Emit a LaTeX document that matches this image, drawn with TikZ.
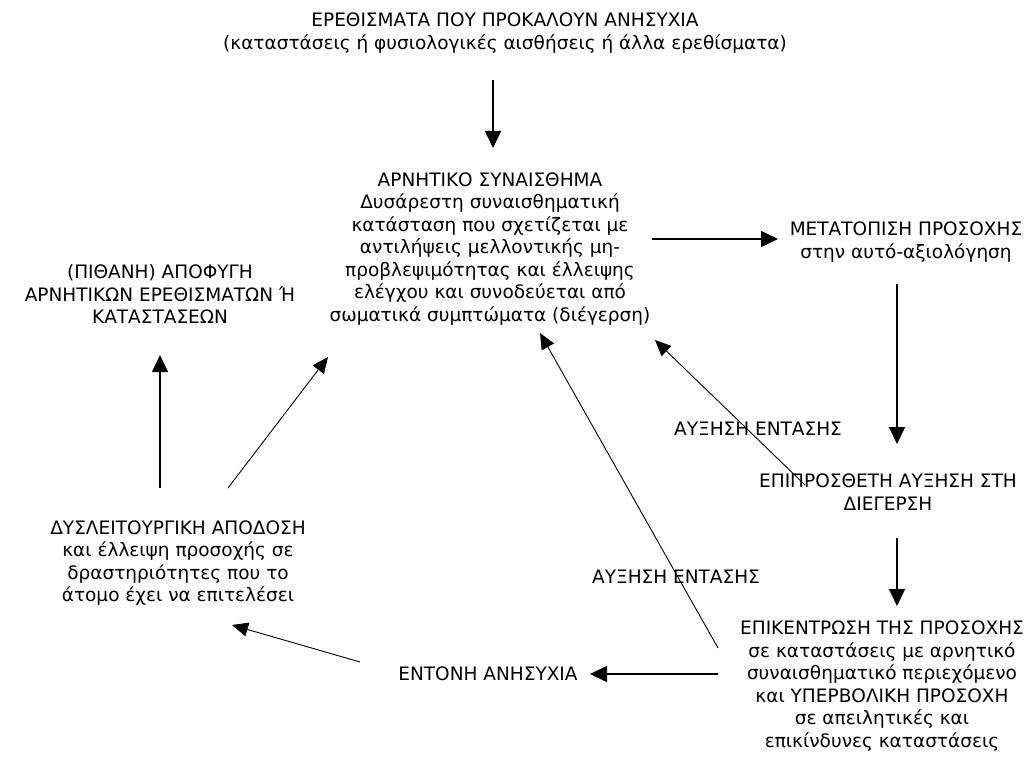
\documentclass[tikz,border=0pt]{standalone}
\usepackage{fontspec}
\setmainfont{DejaVu Sans}
\usetikzlibrary{calc,arrows.meta}

\begin{document}
\begin{tikzpicture}[x=1pt,y=-1pt,
    txt/.style={align=center,inner sep=0pt,font=\fontsize{18.5}{22.5}\selectfont},
    flow/.style={-{Triangle[length=17pt,width=16pt]},line width=1.6pt},
    link/.style={-{Triangle[length=16pt,width=14pt]},line width=0.9pt}]
      \useasboundingbox (0,0) rectangle (1035,762);
      \node[txt] (stimuli) at (505,33) {ΕΡΕΘΙΣΜΑΤΑ ΠΟΥ ΠΡΟΚΑΛΟΥΝ ΑΝΗΣΥΧΙΑ\\(καταστάσεις ή φυσιολογικές αισθήσεις ή άλλα ερεθίσματα)};
      \node[txt] (negfeel) at (490,249) {ΑΡΝΗΤΙΚΟ ΣΥΝΑΙΣΘΗΜΑ\\Δυσάρεστη συναισθηματική\\κατάσταση που σχετίζεται με\\αντιλήψεις μελλοντικής μη-\\προβλεψιμότητας και έλλειψης\\ελέγχου και συνοδεύεται από\\σωματικά συμπτώματα (διέγερση)};
      \node[txt] (shift) at (906,242) {ΜΕΤΑΤΟΠΙΣΗ ΠΡΟΣΟΧΗΣ\\στην αυτό-αξιολόγηση};
      \node[txt] (arousal) at (888,492) {ΕΠΙΠΡΟΣΘΕΤΗ ΑΥΞΗΣΗ ΣΤΗ\\ΔΙΕΓΕΡΣΗ};
      \node[txt] (focus) at (882,686) {ΕΠΙΚΕΝΤΡΩΣΗ ΤΗΣ ΠΡΟΣΟΧΗΣ\\σε καταστάσεις με αρνητικό\\συναισθηματικό περιεχόμενο\\και ΥΠΕΡΒΟΛΙΚΗ ΠΡΟΣΟΧΗ\\σε απειλητικές και\\επικίνδυνες καταστάσεις};
      \node[txt] (anxiety) at (488,674) {ΕΝΤΟΝΗ ΑΝΗΣΥΧΙΑ};
      \node[txt] (avoid) at (160,294) {(ΠΙΘΑΝΗ) ΑΠΟΦΥΓΗ\\ΑΡΝΗΤΙΚΩΝ ΕΡΕΘΙΣΜΑΤΩΝ Ή\\ΚΑΤΑΣΤΑΣΕΩΝ};
      \node[txt] (dysf) at (178,563) {ΔΥΣΛΕΙΤΟΥΡΓΙΚΗ ΑΠΟΔΟΣΗ\\και έλλειψη προσοχής σε\\δραστηριότητες που το\\άτομο έχει να επιτελέσει};
      \node[txt] (rise1) at (758,429) {ΑΥΞΗΣΗ ΕΝΤΑΣΗΣ};
      \node[txt] (rise2) at (676,577) {ΑΥΞΗΣΗ ΕΝΤΑΣΗΣ};
      \draw[flow] ($(stimuli)+(-12,47)$) -- ($(negfeel)+(3,-101)$);
      \draw[flow] ($(negfeel)+(162,-10)$) -- ($(shift)+(-128,-3)$);
      \draw[flow] ($(shift)+(-9,42)$) -- ($(arousal)+(9,-48)$);
      \draw[flow] ($(arousal)+(9,46)$) -- ($(focus)+(15,-80)$);
      \draw[flow] ($(focus)+(-164,-12)$) -- ($(anxiety)+(102,0)$);
      \draw[link] ($(anxiety)+(-128,-12)$) -- ($(dysf)+(54,62)$);
      \draw[flow] ($(dysf)+(-18,-75)$) -- ($(avoid)+(0,61)$);
      \draw[link] ($(dysf)+(50,-75)$) -- ($(negfeel)+(-162,108)$);
      \draw[link] ($(focus)+(-164,-38)$) -- ($(negfeel)+(50,84)$);
      \draw[link] ($(arousal)+(-83,-7)$) -- ($(negfeel)+(165,91)$);
\end{tikzpicture}
\end{document}
